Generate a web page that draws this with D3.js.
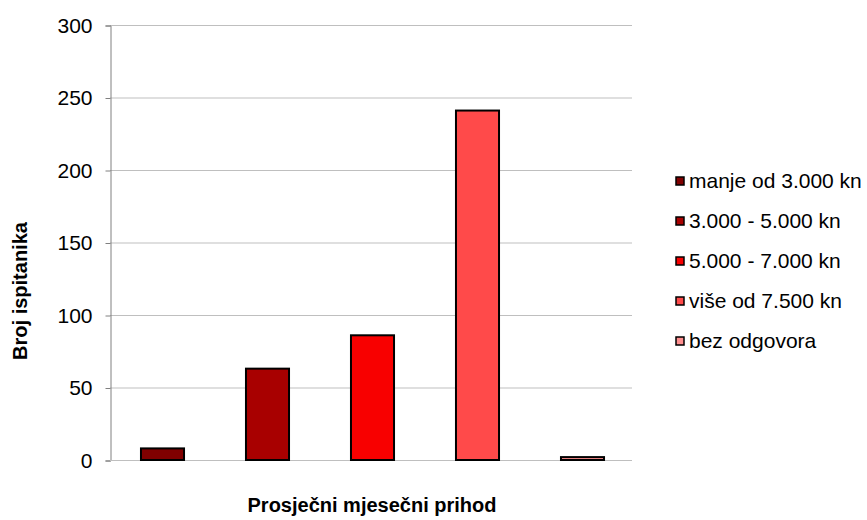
<!DOCTYPE html>
<html>
<head>
<meta charset="utf-8">
<script src="https://cdn.jsdelivr.net/npm/d3@7.9.0/dist/d3.min.js"></script>
<style>
  body { margin: 0; background: #fff; }
  text { font-family: "Liberation Sans", Arial, sans-serif; fill: #000; }
</style>
</head>
<body>
<svg id="chart" width="867" height="520"></svg>
<script>
// categories and values
const categories = ["manje od 3.000 kn", "3.000 - 5.000 kn", "5.000 - 7.000 kn", "više od 7.500 kn", "bez odgovora"];
const counts = [8, 63, 86, 241, 2];
const colors = ["#800000", "#a80000", "#f80000", "#ff4a4a", "#ff8f8f"];
const yTicks = [0, 50, 100, 150, 200, 250, 300];

const svg = d3.select("#chart");
const plotLeft = 110, plotRight = 635, plotTop = 25, plotBottom = 460;

let x = d3.scaleBand().domain(categories).range([plotLeft, plotRight]).paddingInner(0.59).paddingOuter(0.295);
let y = d3.scaleLinear().domain([0, 300]).range([plotBottom, plotTop]);

// gridlines
svg.append("g")
  .selectAll("line")
  .data(yTicks.filter((d) => d > 0))
  .join("line")
  .attr("x1", plotLeft).attr("x2", plotRight - 3)
  .attr("y1", (d) => y(d) + 0.5).attr("y2", (d) => y(d) + 0.5)
  .attr("stroke", "#bfbfbf").attr("stroke-width", 1);

// y axis
let yAxis = svg.append("g")
  .attr("transform", `translate(${plotLeft + 0.5},0.5)`)
  .call(d3.axisLeft(y).tickValues(yTicks).tickSize(5).tickPadding(13));
yAxis.select(".domain").attr("stroke", "#808080");
yAxis.selectAll(".tick line").attr("stroke", "#808080");
yAxis.selectAll("text").style("font-size", "21px").attr("fill", "#000");

// baseline
svg.append("line")
  .attr("x1", plotLeft).attr("x2", plotRight - 3)
  .attr("y1", plotBottom + 0.5).attr("y2", plotBottom + 0.5)
  .attr("stroke", "#bfbfbf");

// bars
svg.append("g")
  .selectAll("rect")
  .data(counts)
  .join("rect")
  .attr("x", (d, i) => x(categories[i]))
  .attr("y", (d) => y(d))
  .attr("width", x.bandwidth())
  .attr("height", (d) => plotBottom - y(d))
  .attr("fill", (d, i) => colors[i])
  .attr("stroke", "#000")
  .attr("stroke-width", 2);

// axis titles
svg.append("text")
  .attr("x", 372).attr("y", 512)
  .attr("text-anchor", "middle")
  .style("font-size", "20px").attr("font-weight", "bold")
  .text("Prosječni mjesečni prihod");

svg.append("text")
  .attr("transform", "translate(27,291) rotate(-90)")
  .attr("text-anchor", "middle")
  .style("font-size", "20px").attr("font-weight", "bold")
  .text("Broj ispitanika");

// legend
let legend = svg.append("g");
categories.forEach((c, i) => {
  let ly = 181 + i * 40;
  legend.append("rect")
    .attr("x", 676).attr("y", ly - 4)
    .attr("width", 8).attr("height", 8)
    .attr("fill", colors[i]).attr("stroke", "#000").attr("stroke-width", 1.5);
  legend.append("text")
    .attr("x", 689).attr("y", ly + 7)
    .style("font-size", "21px")
    .text(c);
});
</script>
</body>
</html>
